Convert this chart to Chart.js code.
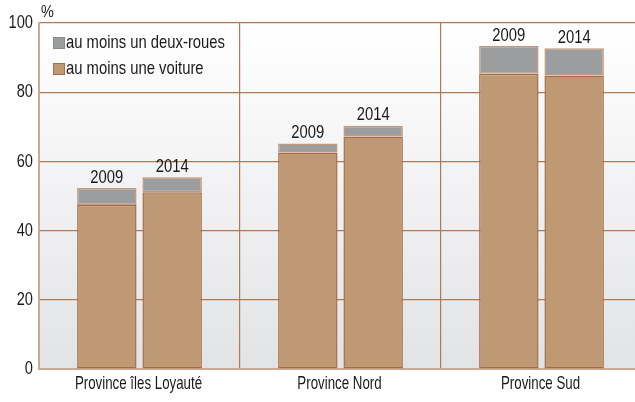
<!DOCTYPE html>
<html>
<head>
<meta charset="utf-8">
<script src="https://cdn.jsdelivr.net/npm/chart.js@4"></script>
<style>
  html, body { margin: 0; padding: 0; background: #fff; overflow: hidden; }
  #wrap { width: 642px; height: 402px; }
</style>
</head>
<body>
<div id="wrap"><canvas id="chart" width="642" height="402"></canvas></div>
<script>
// Data
const provinces = ['Province îles Loyauté', 'Province Nord', 'Province Sud'];
const years = ['2009', '2014'];
const voiture2009 = [47.4, 62.6, 85.3];
const voiture2014 = [51.1, 67.2, 84.8];
const deuxRoues2009 = [4.9, 2.6, 8.1];
const deuxRoues2014 = [4.3, 3.1, 7.9];
const yTicks = [0, 20, 40, 60, 80, 100];

const FONT = "'Liberation Sans', Arial, sans-serif";
const BROWN = '#b07a52';
const TAN = '#bf9874';
const GREY = '#9c9d9f';
const TEXT = '#1a1a1a';

function ds(label, data, stack, color, border) {
    return {
        label,
        data,
        stack,
        backgroundColor: color,
        borderColor: border,
        borderWidth: 1.5,
        borderSkipped: false,
        categoryPercentage: 0.65,
        barPercentage: 0.91,
    };
}

const datasets = [
    ds('au moins une voiture', voiture2009, years[0], TAN, '#a56e48'),
    ds('au moins un deux-roues', deuxRoues2009, years[0], GREY, '#c09a7c'),
    ds('au moins une voiture', voiture2014, years[1], TAN, '#a56e48'),
    ds('au moins un deux-roues', deuxRoues2014, years[1], GREY, '#c09a7c'),
];

// condensed text: the reference uses a narrow face, squeeze Liberation Sans
function narrowText(ctx, text, x, y, size, squeeze, align, baseline) {
    ctx.save();
    ctx.font = size + 'px ' + FONT;
    ctx.fillStyle = TEXT;
    ctx.textAlign = align;
    ctx.textBaseline = baseline;
    ctx.translate(x, y);
    ctx.scale(squeeze, 1);
    ctx.fillText(text, 0, 0);
    ctx.restore();
}

// plot background gradient
const bgPlugin = {
    id: 'bg',
    beforeDraw(chart) {
        const { ctx, chartArea: a } = chart;
        const g = ctx.createLinearGradient(0, a.top, 0, a.bottom);
        g.addColorStop(0, '#ffffff');
        g.addColorStop(1, '#e2e3e5');
        ctx.save();
        ctx.fillStyle = g;
        ctx.fillRect(a.left, a.top, a.right - a.left, a.bottom - a.top);
        ctx.restore();
    },
};

// tick labels, year labels, legend and unit
const labelsPlugin = {
    id: 'labels',
    afterDraw(chart) {
        const { ctx, scales } = chart;

        scales.y.ticks.forEach(t => {
            narrowText(ctx, String(t.value), scales.y.left - 6, scales.y.getPixelForValue(t.value), 19, 0.77, 'right', 'middle');
        });
        provinces.forEach((p, i) => {
            narrowText(ctx, p, scales.x.getPixelForValue(i) - 1, scales.x.bottom + 5, 19, 0.7, 'center', 'top');
        });

        [1, 3].forEach((di, k) => {
            chart.getDatasetMeta(di).data.forEach(bar => {
                narrowText(ctx, years[k], bar.x, bar.y - 1, 19, 0.78, 'center', 'bottom');
            });
        });

        const items = [[datasets[1].label, GREY, '#8a8b8d'], [datasets[0].label, TAN, '#a56e48']];
        items.forEach((it, i) => {
            const y = 43 + i * 26;
            ctx.save();
            ctx.fillStyle = it[1];
            ctx.fillRect(53, y - 6, 12, 12);
            ctx.strokeStyle = it[2];
            ctx.lineWidth = 1;
            ctx.strokeRect(53.5, y - 5.5, 11, 11);
            ctx.restore();
            narrowText(ctx, it[0], 66, y, 19, 0.78, 'left', 'middle');
        });

        narrowText(ctx, '%', 41, 12, 17, 0.85, 'left', 'middle');
    },
};

new Chart(document.getElementById('chart'), {
    type: 'bar',
    data: { labels: provinces, datasets },
    options: {
        responsive: false,
        animation: false,
        layout: { padding: { top: 23, right: 0, bottom: 33, left: 39 } },
        plugins: {
            legend: { display: false },
            tooltip: { enabled: false },
        },
        scales: {
            x: {
                stacked: true,
                grid: { color: BROWN, lineWidth: 1.2, drawTicks: false, offset: true },
                border: { color: '#c9ab95', width: 2 },
                ticks: { display: false },
            },
            y: {
                stacked: true,
                min: 0,
                max: 100,
                afterBuildTicks(axis) { axis.ticks = yTicks.map(v => ({ value: v })); },
                grid: { color: BROWN, lineWidth: 1.2, drawTicks: false },
                border: { color: '#c9ab95', width: 2 },
                ticks: { display: false },
            },
        },
    },
    plugins: [bgPlugin, labelsPlugin],
});
</script>
</body>
</html>
